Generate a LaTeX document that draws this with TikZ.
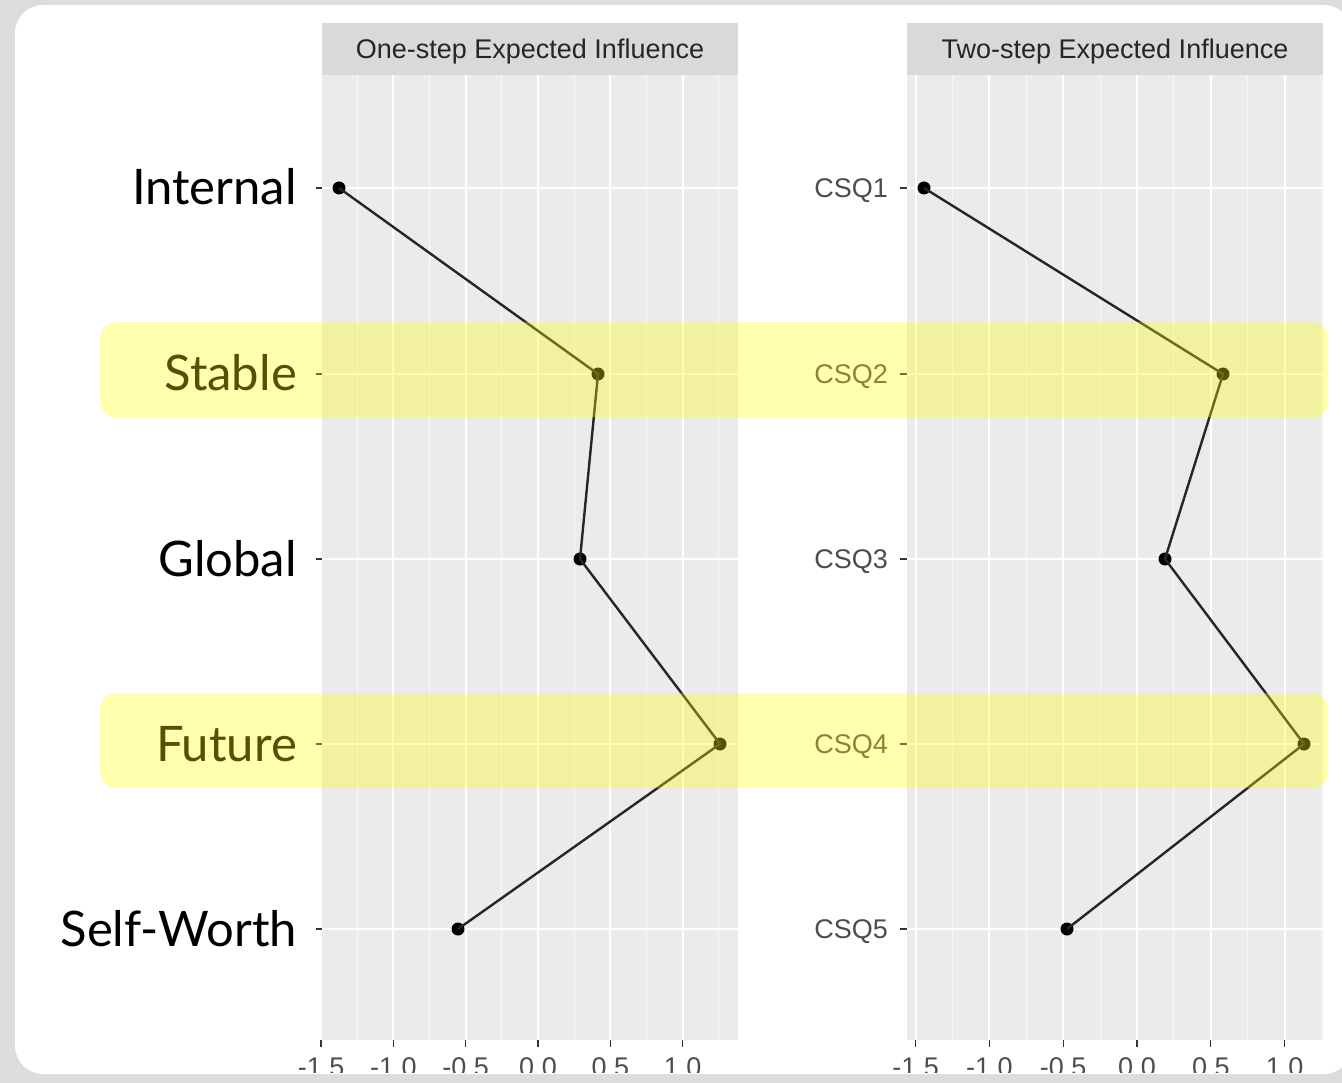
\documentclass[tikz,border=0pt]{standalone}
\usepackage{fontspec}
\setmainfont{Liberation Sans}
\newfontfamily\labelfont{Lato}
\definecolor{pagegrey}{HTML}{DCDCDC}
\definecolor{stripgrey}{HTML}{D9D9D9}
\definecolor{panelgrey}{HTML}{EBEBEB}
\definecolor{axisgrey}{HTML}{4D4D4D}
\definecolor{tickgrey}{HTML}{333333}
\definecolor{striptext}{HTML}{262626}
\definecolor{hlyellow}{HTML}{FFFF00}
\tikzset{
  majorgrid/.style={white, line width=2pt},
  minorgrid/.style={white!60!panelgrey, line width=1pt},
  axistick/.style={tickgrey, line width=1.3pt},
  axislabel/.style={text=axisgrey, font=\fontsize{27}{27}\selectfont, inner sep=0pt},
  striplabel/.style={text=striptext, font=\fontsize{27}{27}\selectfont, inner sep=0pt},
  rowlabel/.style={font=\labelfont\fontsize{49}{49}\selectfont, inner sep=0pt, anchor=base east},
  datapt/.style={circle, fill=black, inner sep=0pt, minimum size=13pt},
  dataline/.style={black!85, line width=2.4pt},
  highlight/.style={fill=hlyellow, fill opacity=0.32, rounded corners=16pt},
}
\begin{document}
\begin{tikzpicture}[x=1pt, y=-1pt]
\useasboundingbox (0,0) rectangle (1342,1083);
% page and card
\fill[pagegrey] (0,0) rectangle (1342,1083);
\fill[white, rounded corners=28pt] (15,5) rectangle (1352,1074);

% ---------- left panel: one-step ----------
\fill[stripgrey] (322,23) rectangle (738,75);
\node[striplabel] (t1) at (530,52) {One-step Expected Influence};
\fill[panelgrey] (322,75) rectangle (738,1040);
\foreach \v in {-1.25,-0.75,-0.25,0.25,0.75,1.25}
  \draw[minorgrid] ({538+144.6*\v},75) -- ({538+144.6*\v},1040);
\foreach \v in {-1.5,-1.0,-0.5,0.0,0.5,1.0}
  \draw[majorgrid] ({538+144.6*\v},75) -- ({538+144.6*\v},1040);
\foreach \r in {188,374,559,744,929} {
  \draw[majorgrid] (322,\r) -- (738,\r);
  \draw[axistick] (316,\r) -- (322,\r);
}
\begin{scope}
\clip (0,0) rectangle (1342,1072);
\foreach \v/\t in {-1.5/-1.5,-1.0/-1.0,-0.5/-0.5,0.0/0.0,0.5/0.5,1.0/1.0} {
  \draw[axistick] ({538+144.6*\v},1040) -- ({538+144.6*\v},1047);
  \node[axislabel, anchor=base] at ({538+144.6*\v},1076) {\t};
}
\end{scope}
\node[datapt] (a1) at (339,188) {};
\node[datapt] (a2) at (598,374) {};
\node[datapt] (a3) at (580,559) {};
\node[datapt] (a4) at (720,744) {};
\node[datapt] (a5) at (458,929) {};
\draw[dataline] (a1.center) -- (a2.center) -- (a3.center) -- (a4.center) -- (a5.center);

\node[rowlabel] (l1) at (297,205) {Internal};
\node[rowlabel] (l2) at (297,391) {Stable};
\node[rowlabel] (l3) at (297,576) {Global};
\node[rowlabel] (l4) at (297,761) {Future};
\node[rowlabel] (l5) at (297,946) {Self-Worth};

% ---------- right panel: two-step ----------
\fill[stripgrey] (907,23) rectangle (1323,75);
\node[striplabel] (t2) at (1115,52) {Two-step Expected Influence};
\fill[panelgrey] (907,75) rectangle (1323,1040);
\foreach \v in {-1.25,-0.75,-0.25,0.25,0.75,1.25}
  \draw[minorgrid] ({1137+147.6*\v},75) -- ({1137+147.6*\v},1040);
\foreach \v in {-1.5,-1.0,-0.5,0.0,0.5,1.0}
  \draw[majorgrid] ({1137+147.6*\v},75) -- ({1137+147.6*\v},1040);
\foreach \r/\q in {188/CSQ1,374/CSQ2,559/CSQ3,744/CSQ4,929/CSQ5} {
  \draw[majorgrid] (907,\r) -- (1323,\r);
  \draw[axistick] (900,\r) -- (907,\r);
  \node[axislabel, anchor=east] at (888,\r+3) {\q};
}
\begin{scope}
\clip (0,0) rectangle (1342,1072);
\foreach \v/\t in {-1.5/-1.5,-1.0/-1.0,-0.5/-0.5,0.0/0.0,0.5/0.5,1.0/1.0} {
  \draw[axistick] ({1137+147.6*\v},1040) -- ({1137+147.6*\v},1047);
  \node[axislabel, anchor=base] at ({1137+147.6*\v},1076) {\t};
}
\end{scope}
\node[datapt] (b1) at (924,188) {};
\node[datapt] (b2) at (1223,374) {};
\node[datapt] (b3) at (1165,559) {};
\node[datapt] (b4) at (1304,744) {};
\node[datapt] (b5) at (1067,929) {};
\draw[dataline] (b1.center) -- (b2.center) -- (b3.center) -- (b4.center) -- (b5.center);

% ---------- highlight bands ----------
\fill[highlight] (100,322) rectangle (1328,417);
\fill[highlight] (100,693) rectangle (1328,788);
\end{tikzpicture}
\end{document}
